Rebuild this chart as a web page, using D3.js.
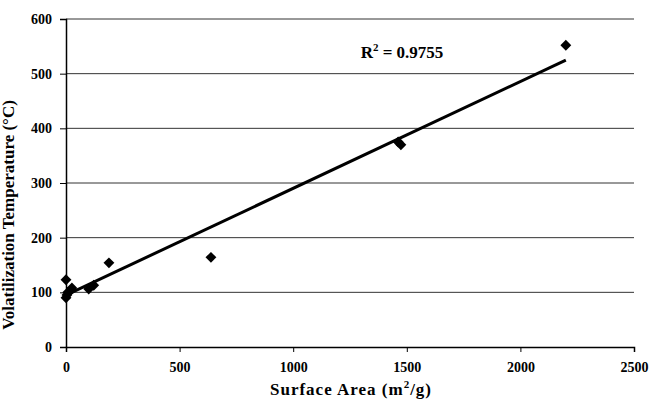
<!DOCTYPE html>
<html>
<head>
<meta charset="utf-8">
<script src="https://cdn.jsdelivr.net/npm/d3@7"></script>
<style>
  body { margin: 0; background: #fff; }
  text { font-family: "Liberation Serif", "Times New Roman", serif; font-weight: bold; }
</style>
</head>
<body>
<div id="chart"></div>
<script>
// surface area (m2/g) and volatilization temperature (C)
var surface = [2200, 1462, 1474, 638, 189, 0, 0, 4, 8, 22, 26, 100, 122];
var temperature = [552, 375, 370, 164, 154, 123, 90, 95, 100, 104, 108, 106, 113];
var xTicks = [0, 500, 1000, 1500, 2000, 2500];
var yTicks = [0, 100, 200, 300, 400, 500, 600];
var r2Label = "0.9755";

var margin = {top: 19, right: 16, bottom: 55, left: 66},
  width = 650 - margin.left - margin.right,
  height = 402 - margin.top - margin.bottom;

var svg = d3.select("#chart").append("svg")
  .attr("width", 650)
  .attr("height", 402)
  .append("g")
  .attr("transform", "translate(" + margin.left + "," + margin.top + ")");

var x = d3.scaleLinear().domain([0, 2500]).range([0, width]);
var y = d3.scaleLinear().domain([0, 600]).range([height, 0]);

// gridlines
svg.append("g")
  .selectAll("line")
  .data(yTicks.slice(1))
  .enter().append("line")
  .attr("x1", 0)
  .attr("x2", width)
  .attr("y1", function(d) { return y(d); })
  .attr("y2", function(d) { return y(d); })
  .attr("stroke", "#333")
  .attr("stroke-width", 1);

var xAxis = svg.append("g")
  .attr("transform", "translate(0," + height + ")")
  .call(d3.axisBottom(x).tickValues(xTicks).tickSize(5).tickPadding(10).tickFormat(d3.format("d")));
xAxis.select(".domain").attr("stroke", "#000").attr("stroke-width", 1.5);

var yAxis = svg.append("g")
  .call(d3.axisLeft(y).tickValues(yTicks).tickSize(6).tickPadding(8));
yAxis.select(".domain").attr("stroke", "#000").attr("stroke-width", 1.5);

svg.selectAll(".tick text")
  .style("font-size", "14px")
  .style("font-family", "Liberation Serif")
  .style("font-weight", "bold")
  .attr("fill", "#000");

// linear trend line from least squares
var n = surface.length;
var mx = d3.mean(surface), my = d3.mean(temperature);
var sxy = 0, sxx = 0;
for (var i = 0; i < n; i++) {
  sxy += (surface[i] - mx) * (temperature[i] - my);
  sxx += (surface[i] - mx) * (surface[i] - mx);
}
var slope = sxy / sxx, intercept = my - slope * mx;
var xMin = d3.min(surface), xMax = d3.max(surface);

svg.append("line")
  .attr("x1", x(xMin))
  .attr("y1", y(intercept + slope * xMin))
  .attr("x2", x(xMax))
  .attr("y2", y(intercept + slope * xMax))
  .attr("stroke", "#000")
  .attr("stroke-width", 3);

var pts = surface.map(function(d, i) { return {x: d, y: temperature[i]}; });
svg.selectAll(".pt")
  .data(pts)
  .enter().append("path")
  .attr("class", "pt")
  .attr("d", d3.symbol().type(d3.symbolDiamond2).size(75))
  .attr("transform", function(d) { return "translate(" + x(d.x) + "," + y(d.y) + ")"; })
  .attr("fill", "#000");

var r2 = svg.append("text")
  .attr("x", 336)
  .attr("y", 39)
  .attr("text-anchor", "middle")
  .style("font-size", "17px");
r2.append("tspan").text("R");
r2.append("tspan").attr("dy", -7).style("font-size", "11px").text("2");
r2.append("tspan").attr("dy", 7).text(" = " + r2Label);

var xt = svg.append("text")
  .attr("x", width / 2 + 1)
  .attr("y", height + 48)
  .attr("text-anchor", "middle")
  .style("font-size", "17px")
  .style("letter-spacing", "1px");
xt.append("tspan").text("Surface Area (m");
xt.append("tspan").attr("dy", -7).style("font-size", "11px").text("2");
xt.append("tspan").attr("dy", 7).text("/g)");

svg.append("text")
  .attr("transform", "rotate(-90)")
  .attr("x", -(215 - margin.top))
  .attr("y", -52)
  .attr("text-anchor", "middle")
  .style("font-size", "17px")
  .text("Volatilization Temperature (\u00B0C)");
</script>
</body>
</html>
